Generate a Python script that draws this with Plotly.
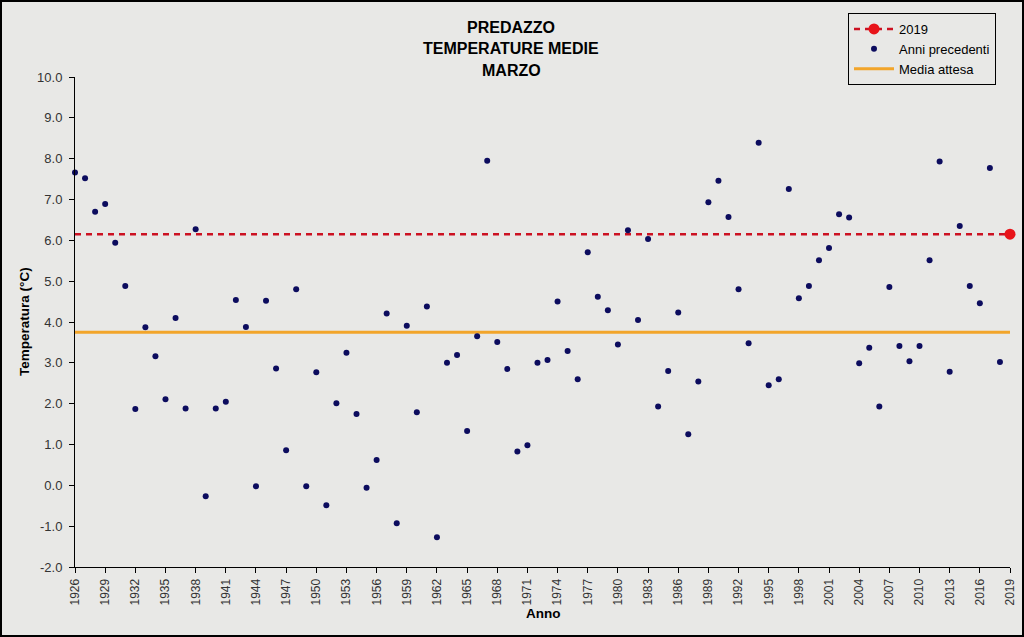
import plotly.graph_objects as go

# ---- data ----
years = list(range(1926, 2019))
temps = [
    7.66, 7.52, 6.70, 6.89, 5.94, 4.88, 1.87, 3.87, 3.16, 2.11,   # 1926-1935
    4.10, 1.88, 6.27, -0.27, 1.88, 2.05, 4.54, 3.88, -0.02, 4.52,  # 1936-1945
    2.86, 0.86, 4.80, -0.02, 2.77, -0.49, 2.01, 3.25, 1.75, -0.06, # 1946-1955
    0.62, 4.21, -0.93, 3.91, 1.79, 4.38, -1.27, 3.00, 3.19, 1.33,  # 1956-1965
    3.65, 7.95, 3.51, 2.85, 0.83, 0.98, 3.00, 3.07, 4.50, 3.29,    # 1966-1975
    2.60, 5.71, 4.62, 4.29, 3.45, 6.25, 4.05, 6.03, 1.93, 2.80,    # 1976-1985
    4.23, 1.25, 2.54, 6.93, 7.46, 6.57, 4.80, 3.48, 8.39, 2.45,    # 1986-1995
    2.60, 7.26, 4.58, 4.88, 5.51, 5.81, 6.64, 6.56, 2.99, 3.37,    # 1996-2005
    1.93, 4.86, 3.41, 3.04, 3.41, 5.51, 7.93, 2.78, 6.35, 4.88,    # 2006-2015
    4.46, 7.77, 3.02,                                              # 2016-2018
]
year_current = 2019
temp_current = 6.15
media_attesa = 3.75

x_tick_vals = list(range(1926, 2020, 3))
y_tick_vals = list(range(-2, 11, 1))

title_lines = ["PREDAZZO", "TEMPERATURE MEDIE", "MARZO"]

# ---- style ----
BG = "#e8e8e6"
FONT = "Arial, Liberation Sans, sans-serif"
NAVY = "#0c0c5e"
ORANGE = "#f2a52a"
RED_LINE = "#cc1122"
RED_DOT = "#e8141a"

L, R, T, B = 75, 14, 77, 70
W, H = 1024, 637
pw, ph = W - L - R, H - T - B

def px_x(px):
    return (px - L) / pw

def px_y(py):
    return (H - B - py) / ph

fig = go.Figure()

# reference line for current year
fig.add_trace(go.Scatter(
    x=[years[0], year_current], y=[temp_current, temp_current],
    mode="lines", line=dict(color=RED_LINE, width=2.5, dash="6px,5px"),
    showlegend=False, hoverinfo="skip", cliponaxis=False,
))

# expected mean
fig.add_trace(go.Scatter(
    x=[years[0], year_current], y=[media_attesa, media_attesa],
    mode="lines", line=dict(color=ORANGE, width=3),
    name="Media attesa", legendgroup="c", legendrank=3, cliponaxis=False,
))

# previous years
fig.add_trace(go.Scatter(
    x=years, y=temps, mode="markers",
    marker=dict(color=NAVY, size=6),
    name="Anni precedenti", legendgroup="b", legendrank=2, cliponaxis=False,
))

# current year point
fig.add_trace(go.Scatter(
    x=[year_current], y=[temp_current], mode="lines+markers",
    marker=dict(color=RED_DOT, size=11),
    line=dict(color=RED_LINE, width=2.5, dash="6px,5px"),
    name=str(year_current), legendgroup="a", legendrank=1, cliponaxis=False,
))

annotations = []
for i, t in enumerate(title_lines):
    annotations.append(dict(
        text=f"<b>{t}</b>", xref="paper", yref="paper",
        x=px_x(511), y=px_y(27.5 + 21.5 * i), xanchor="center", yanchor="middle",
        showarrow=False, font=dict(family=FONT, size=16, color="#000000"),
    ))
annotations.append(dict(
    text="<b>Temperatura (°C)</b>", xref="paper", yref="paper",
    x=px_x(24), y=0.5, xanchor="center", yanchor="middle", textangle=-90,
    showarrow=False, font=dict(family=FONT, size=13.5, color="#000000"),
))
annotations.append(dict(
    text="<b>Anno</b>", xref="paper", yref="paper",
    x=px_x(543), y=px_y(613), xanchor="center", yanchor="middle",
    showarrow=False, font=dict(family=FONT, size=13.5, color="#000000"),
))

fig.update_layout(
    width=W, height=H,
    margin=dict(l=L, r=R, t=T, b=B, pad=0, autoexpand=False),
    paper_bgcolor=BG, plot_bgcolor=BG,
    font=dict(family=FONT, size=12, color="#333333"),
    showlegend=True,
    legend=dict(
        xref="container", yref="container",
        x=848 / W, y=1 - 13 / H, xanchor="left", yanchor="top",
        bgcolor=BG, bordercolor="#000000", borderwidth=1,
        font=dict(family=FONT, size=13, color="#000000"),
        traceorder="grouped", tracegroupgap=0, itemwidth=40,
    ),
    annotations=annotations,
    shapes=[dict(
        type="rect", xref="paper", yref="paper",
        x0=px_x(1), x1=px_x(W - 1), y0=px_y(H - 1), y1=px_y(1),
        line=dict(color="#000000", width=2), fillcolor="rgba(0,0,0,0)",
    )],
)

fig.update_xaxes(
    range=[1926, 2019], tickmode="array", tickvals=x_tick_vals,
    ticktext=[str(v) for v in x_tick_vals], tickangle=-90, automargin=False,
    showgrid=False, zeroline=False, showline=True, linecolor="#000000", linewidth=1,
    ticks="outside", ticklen=5, tickcolor="#000000", ticklabelstandoff=1,
    tickfont=dict(family=FONT, size=12, color="#333333"),
)
fig.update_yaxes(
    range=[-2, 10], tickmode="array", tickvals=y_tick_vals, automargin=False,
    ticktext=[f"{v:.1f}" for v in y_tick_vals],
    showgrid=False, zeroline=False, showline=True, linecolor="#000000", linewidth=1,
    ticks="outside", ticklen=5, tickcolor="#000000", ticklabelstandoff=4,
    tickfont=dict(family=FONT, size=13, color="#333333"),
)

fig.write_html(
    "out.html",
    config={"displayModeBar": False},
    post_script="document.body.style.margin='0';document.body.style.overflow='hidden';",
)
